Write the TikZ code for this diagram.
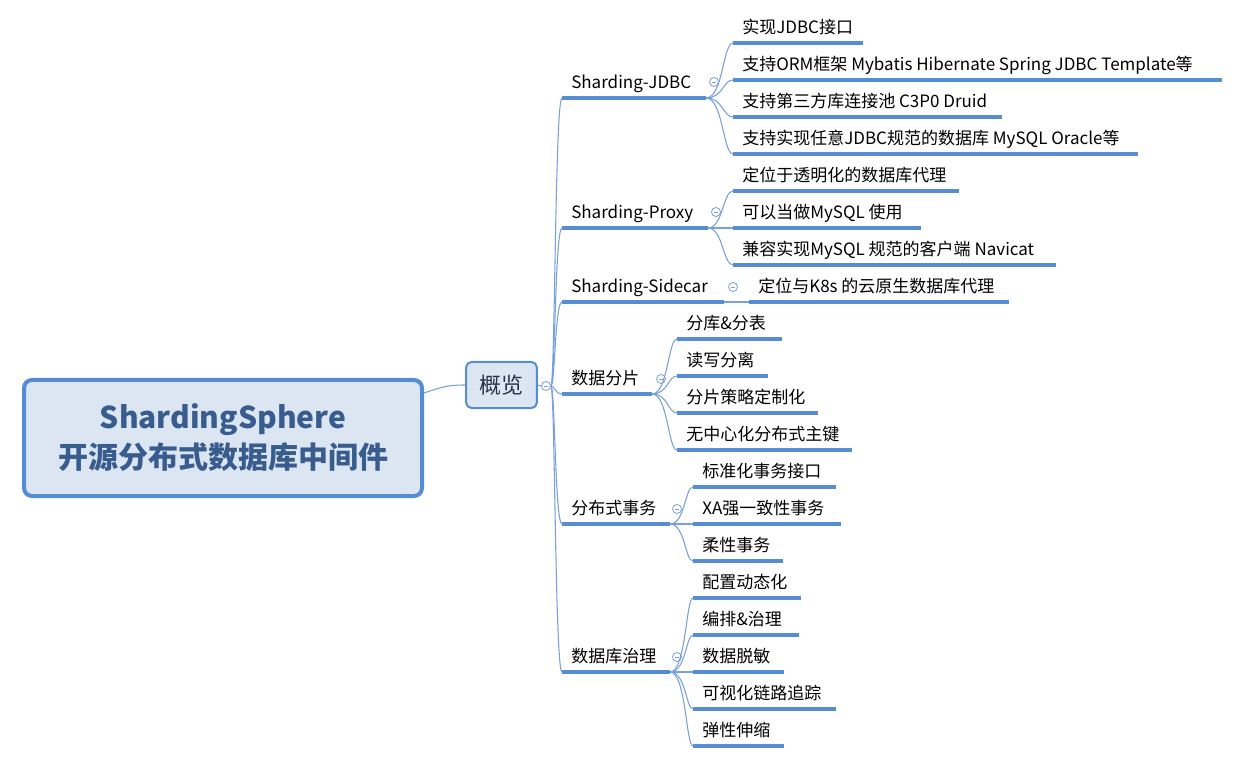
\documentclass[tikz,border=0pt]{standalone}
\usepackage{fontspec}
\setmainfont{Noto Sans CJK SC}
\definecolor{ulblue}{RGB}{86,141,213}
\definecolor{connblue}{RGB}{120,160,220}
\definecolor{rootfill}{RGB}{220,230,242}
\definecolor{rootline}{RGB}{84,141,212}
\definecolor{roottext}{RGB}{56,92,142}
\definecolor{ovtext}{RGB}{40,50,72}
\tikzset{
  uline/.style={draw=ulblue, line width=2.3pt},
  conn/.style={draw=connblue, line width=0.8pt},
  lbl/.style={anchor=base west, inner sep=0pt, font=\fontsize{12.75}{15}\selectfont, text=black},
  fold/.style={circle, draw=connblue, fill=white, line width=0.6pt, minimum size=6.8pt, inner sep=0pt,
    path picture={\draw[draw=connblue, line width=0.6pt] ([xshift=-1.8pt]path picture bounding box.center) -- ([xshift=1.8pt]path picture bounding box.center);}},
  rootbox/.style={draw=rootline, line width=3pt, fill=rootfill, rounded corners=6pt, align=center,
    text=roottext, font=\fontsize{22.5}{30}\selectfont\bfseries},
  ovbox/.style={draw=rootline, line width=1.5pt, fill=rootfill, rounded corners=4pt,
    text=ovtext, font=\fontsize{16.5}{18}\selectfont},
}
\newcommand\leaf[5]{%
  \coordinate (#1-s) at (#2,#4);
  \coordinate (#1-e) at (#3,#4);
  \draw[uline] (#1-s) -- (#1-e);
  \node[lbl] (#1) at (#2+9,#4-9.5) {#5};
}
\newcommand\br[5]{\draw[conn] (#1-e) .. controls (#3,#4) and (#3,#5) .. (#2-s);}
\begin{document}
\begin{tikzpicture}[x=0.75pt,y=-0.75pt]
\useasboundingbox (0,0) rectangle (1237,762);
% root and overview
\node[rootbox, minimum width=298.5pt, minimum height=87pt] (root) at (223,438) {ShardingSphere\\开源分布式数据库中间件};
\node[ovbox, minimum width=53pt, minimum height=34.5pt] (ov) at (501.5,385) {概览};
\draw[conn] ([yshift=33.75pt]root.east) .. controls +(18,-6) and +(-18,0) .. (ov.west);
\node[fold] (f0) at (546,386) {};
\draw[conn] (ov.east) -- (f0.west);
% level 1
\leaf{jdbc}{562}{706}{98}{Sharding-JDBC}
\leaf{proxy}{562}{708}{228}{Sharding-Proxy}
\leaf{sidecar}{562}{724}{302}{Sharding-Sidecar}
\leaf{shard}{562}{652}{394}{数据分片}
\leaf{tx}{562}{670}{524}{分布式事务}
\leaf{gov}{562}{670}{672}{数据库治理}
\foreach \c/\y in {jdbc/98,proxy/228,sidecar/302,shard/394,tx/524,gov/672}
  \draw[conn] (f0.east) .. controls (555,386) and (555,\y) .. (\c-s);
\node[fold] (fj) at (714,82) {};
\node[fold] (fp) at (716,212) {};
\node[fold] (fs) at (733,287) {};
\node[fold] (fd) at (661,379) {};
\node[fold] (ft) at (677,509) {};
\node[fold] (fg) at (677,657) {};
% Sharding-JDBC
\leaf{j1}{733}{863}{43}{实现JDBC接口}
\leaf{j2}{733}{1222}{80}{支持ORM框架 Mybatis Hibernate Spring JDBC Template等}
\leaf{j3}{733}{1002}{117}{支持第三方库连接池 C3P0 Druid}
\leaf{j4}{733}{1138}{154}{支持实现任意JDBC规范的数据库 MySQL Oracle等}
\br{jdbc}{j1}{723}{98}{43}
\br{jdbc}{j2}{723}{98}{80}
\br{jdbc}{j3}{723}{98}{117}
\br{jdbc}{j4}{723}{98}{154}
% Sharding-Proxy
\leaf{p1}{733}{959}{191}{定位于透明化的数据库代理}
\leaf{p2}{733}{921}{228}{可以当做MySQL 使用}
\leaf{p3}{733}{1056}{265}{兼容实现MySQL 规范的客户端 Navicat}
\br{proxy}{p1}{723}{228}{191}
\br{proxy}{p2}{723}{228}{228}
\br{proxy}{p3}{723}{228}{265}
% Sharding-Sidecar
\leaf{s1}{749}{1009}{302}{定位与K8s 的云原生数据库代理}
\draw[conn] (sidecar-e) -- (s1-s);
% 数据分片
\leaf{d1}{677}{782}{339}{分库\&分表}
\leaf{d2}{677}{768}{376}{读写分离}
\leaf{d3}{677}{818}{413}{分片策略定制化}
\leaf{d4}{677}{852}{450}{无中心化分布式主键}
\br{shard}{d1}{668}{394}{339}
\br{shard}{d2}{668}{394}{376}
\br{shard}{d3}{668}{394}{413}
\br{shard}{d4}{668}{394}{450}
% 分布式事务
\leaf{t1}{693}{836}{487}{标准化事务接口}
\leaf{t2}{693}{841}{524}{XA强一致性事务}
\leaf{t3}{693}{783}{561}{柔性事务}
\br{tx}{t1}{685}{524}{487}
\br{tx}{t2}{685}{524}{524}
\br{tx}{t3}{685}{524}{561}
% 数据库治理
\leaf{g1}{693}{801}{598}{配置动态化}
\leaf{g2}{693}{799}{635}{编排\&治理}
\leaf{g3}{693}{784}{672}{数据脱敏}
\leaf{g4}{693}{836}{709}{可视化链路追踪}
\leaf{g5}{693}{784}{746}{弹性伸缩}
\br{gov}{g1}{686}{672}{598}
\br{gov}{g2}{686}{672}{635}
\br{gov}{g3}{686}{672}{672}
\br{gov}{g4}{686}{672}{709}
\br{gov}{g5}{686}{672}{746}
\end{tikzpicture}
\end{document}
